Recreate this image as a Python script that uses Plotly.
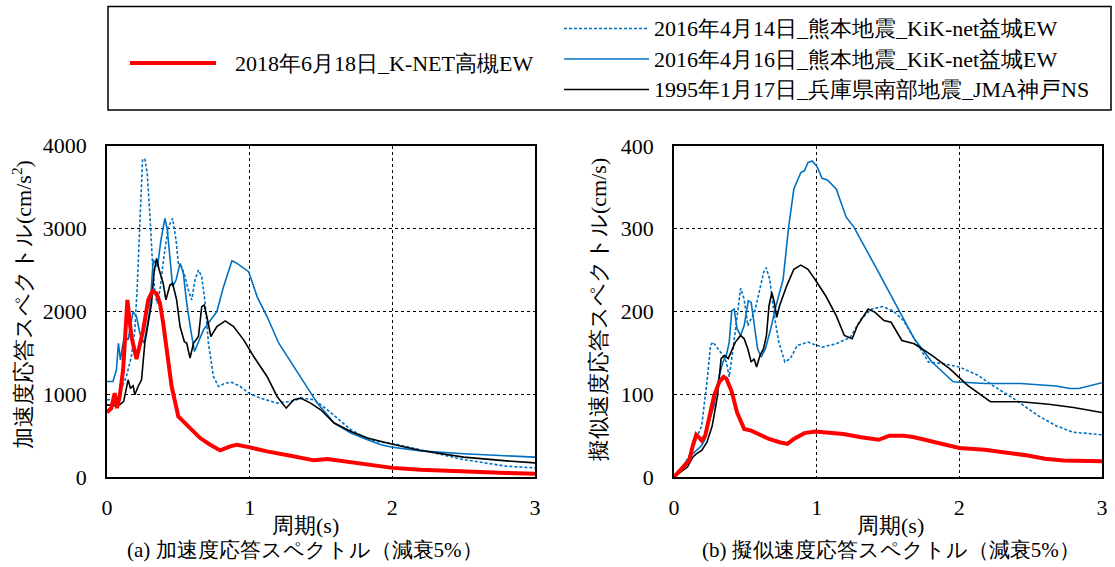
import plotly.graph_objects as go

# ---------------- data ----------------
series_names = [
    "2018年6月18日_K-NET高槻EW",
    "2016年4月14日_熊本地震_KiK-net益城EW",
    "2016年4月16日_熊本地震_KiK-net益城EW",
    "1995年1月17日_兵庫県南部地震_JMA神戸NS",
]

# (a) acceleration response spectra (cm/s^2)
acc_red_T = [0, .03, .054, .07, .089, .113, .143, .171, .207, .254, .289, .319, .347, .371, .394, .418, .453, .5, .559, .653, .723, .793, .864, .911, .993, 1.122, 1.286, 1.451, 1.545, 1.662, 1.8, 1.92, 2.0, 2.2, 2.5, 2.8, 3.0]
acc_red = [779, 831, 1012, 831, 972, 1293, 2137, 1695, 1422, 1775, 2137, 2245, 2217, 2096, 1855, 1574, 1092, 731, 631, 470, 390, 321, 370, 390, 361, 309, 257, 201, 217, 189, 150, 128, 110, 88, 63, 48, 40]

acc_d14_T = [0, .066, .089, .136, .171, .195, .211, .23, .249, .265, .282, .3, .319, .336, .352, .371, .399, .43, .46, .484, .5, .523, .547, .57, .594, .617, .641, .664, .688, .711, .746, .782, .829, .876, .934, .993, 1.075, 1.192, 1.286, 1.369, 1.451, 1.545, 1.709, 1.826, 1.92, 2.0, 2.2, 2.5, 2.8, 3.0]
acc_d14 = [932, 932, 1012, 1213, 1454, 1775, 2257, 2980, 3823, 3843, 3663, 3181, 2578, 2217, 2096, 2257, 2659, 3020, 3120, 2859, 2578, 2538, 2418, 2257, 2137, 2377, 2498, 2418, 2096, 1614, 1213, 1092, 1133, 1141, 1092, 1012, 952, 892, 912, 952, 932, 811, 570, 460, 420, 405, 330, 210, 130, 110]

acc_d16_T = [0, .042, .066, .08, .094, .108, .124, .148, .183, .207, .23, .258, .277, .3, .324, .338, .354, .378, .406, .423, .441, .46, .484, .512, .535, .559, .587, .613, .676, .77, .817, .876, .911, .946, .993, 1.052, 1.122, 1.204, 1.286, 1.357, 1.474, 1.592, 1.709, 1.826, 1.92, 2.0, 2.2, 2.5, 2.8, 3.0]
acc_d16 = [1153, 1153, 1293, 1614, 1414, 1574, 1695, 1655, 1996, 1936, 1735, 1614, 1775, 2016, 2618, 2578, 2538, 2859, 3120, 2980, 2618, 2297, 2377, 2578, 2458, 2096, 1775, 1514, 1775, 1996, 2297, 2610, 2578, 2538, 2478, 2177, 1936, 1614, 1394, 1213, 892, 651, 530, 450, 390, 360, 315, 280, 255, 240]

acc_kobe_T = [0, .054, .089, .117, .148, .164, .183, .195, .218, .242, .265, .289, .312, .329, .347, .366, .394, .413, .441, .46, .488, .512, .542, .559, .582, .606, .641, .664, .681, .7, .728, .77, .829, .887, .958, 1.028, 1.122, 1.192, 1.256, 1.31, 1.357, 1.427, 1.498, 1.592, 1.709, 1.826, 1.92, 2.0, 2.2, 2.5, 2.8, 3.0]
acc_kobe = [871, 859, 871, 912, 1173, 1072, 1100, 992, 1092, 1173, 1614, 1855, 2096, 2458, 2638, 2498, 2337, 2137, 2317, 2337, 2137, 1815, 1634, 1614, 1434, 1614, 1695, 2056, 2076, 1936, 1695, 1815, 1883, 1815, 1655, 1454, 1213, 972, 831, 932, 952, 892, 811, 651, 550, 470, 430, 395, 320, 240, 195, 170]

# (b) pseudo velocity response spectra (cm/s)
vel_red_T = [0, .045, .082, .107, .132, .156, .174, .194, .219, .243, .281, .318, .348, .367, .405, .442, .492, .541, .591, .666, .74, .795, .84, .914, .988, 1.088, 1.187, 1.311, 1.435, 1.51, 1.609, 1.684, 1.783, 1.882, 2.0, 2.18, 2.33, 2.48, 2.6, 2.73, 3.0]
vel_red = [0, 8, 14, 20, 38, 51, 48, 44, 50, 70, 98, 115, 121, 119, 103, 78, 58, 56, 52, 46, 42, 40, 46, 53, 55, 53, 52, 48, 45, 50, 50, 48, 44, 40, 35, 33, 30, 26, 22, 20, 19]

vel_d14_T = [0, .07, .119, .156, .194, .231, .256, .273, .305, .343, .367, .387, .417, .442, .467, .492, .517, .566, .628, .646, .671, .703, .735, .777, .815, .864, .939, 1.038, 1.137, 1.237, 1.311, 1.386, 1.46, 1.535, 1.609, 1.684, 1.783, 1.882, 2.0, 2.131, 2.23, 2.379, 2.553, 2.677, 2.8, 2.875, 3.0]
vel_d14 = [0, 14, 30, 46, 62, 115, 159, 163, 155, 147, 139, 121, 159, 195, 228, 215, 183, 200, 247, 253, 239, 195, 163, 139, 143, 159, 163, 157, 161, 169, 191, 203, 206, 201, 189, 167, 139, 137, 133, 123, 111, 95, 74, 62, 54, 53, 51]

vel_d16_T = [0, .07, .119, .194, .219, .243, .28, .318, .343, .367, .387, .405, .422, .442, .467, .492, .521, .541, .561, .586, .611, .641, .678, .715, .765, .802, .84, .889, .914, .939, .968, 1.0, 1.038, 1.075, 1.137, 1.207, 1.261, 1.336, 1.435, 1.559, 1.684, 1.808, 1.957, 2.18, 2.43, 2.677, 2.776, 2.838, 2.925, 3.0]
vel_d16 = [0, 16, 26, 38, 46, 66, 86, 123, 139, 147, 163, 201, 203, 179, 171, 183, 213, 211, 183, 155, 145, 155, 179, 207, 239, 300, 348, 368, 370, 380, 382, 376, 361, 359, 348, 314, 302, 279, 247, 207, 167, 139, 115, 113, 113, 110, 107, 107, 111, 114]

vel_kobe_T = [0, .094, .132, .156, .194, .231, .268, .305, .33, .355, .38, .405, .43, .467, .492, .517, .541, .561, .579, .603, .628, .648, .666, .686, .703, .72, .74, .79, .84, .889, .939, .988, 1.063, 1.137, 1.194, 1.249, 1.286, 1.361, 1.41, 1.472, 1.522, 1.597, 1.684, 1.808, 1.932, 2.056, 2.218, 2.43, 2.627, 2.8, 3.0]
vel_kobe = [0, 12, 24, 28, 32, 42, 62, 98, 143, 147, 143, 153, 163, 171, 167, 155, 139, 143, 133, 147, 155, 171, 207, 223, 211, 193, 207, 231, 251, 256, 251, 239, 219, 195, 171, 167, 183, 203, 199, 189, 187, 165, 161, 147, 131, 111, 91, 91, 88, 84, 78]

x_ticks = [0, 1, 2, 3]
acc_ticks = [0, 1000, 2000, 3000, 4000]
vel_ticks = [0, 100, 200, 300, 400]

# ---------------- styling ----------------
W, H = 1115, 567
FONT = "Times New Roman, Liberation Serif, DejaVu Serif, serif"
RED = "#FF0000"
BLUE = "#0070C0"
BLACK = "#000000"

def px(x):
    return x / W

def py(y):
    return 1 - y / H

fig = go.Figure()

styles = [
    dict(color=RED, width=4),
    dict(color=BLUE, width=1.6, dash="3px,2px"),
    dict(color=BLUE, width=1.6),
    dict(color=BLACK, width=1.6),
]
acc_sets = [(acc_red_T, acc_red), (acc_d14_T, acc_d14), (acc_d16_T, acc_d16), (acc_kobe_T, acc_kobe)]
vel_sets = [(vel_red_T, vel_red), (vel_d14_T, vel_d14), (vel_d16_T, vel_d16), (vel_kobe_T, vel_kobe)]

order = [1, 2, 3, 0]
for i in order:
    T, v = acc_sets[i]
    fig.add_trace(go.Scatter(x=T, y=v, mode="lines", line=styles[i], name=series_names[i],
                             showlegend=False, xaxis="x", yaxis="y"))
for i in order:
    T, v = vel_sets[i]
    fig.add_trace(go.Scatter(x=T, y=v, mode="lines", line=styles[i], name=series_names[i],
                             showlegend=False, xaxis="x2", yaxis="y2"))

ax_common = dict(
    showline=True, mirror=True, linecolor="black", linewidth=1.5,
    showgrid=True, gridcolor="black", gridwidth=1, griddash="dot",
    zeroline=False, ticks="", automargin=False,
    tickfont=dict(family=FONT, size=22, color="black"),
)

fig.update_layout(
    width=W, height=H,
    margin=dict(l=0, r=0, t=0, b=0),
    paper_bgcolor="white", plot_bgcolor="white",
    font=dict(family=FONT, size=22, color="black"),
    showlegend=False,
    xaxis=dict(domain=[px(107), px(535)], range=[0, 3], tickvals=x_ticks, anchor="y",
               ticklabelstandoff=10, **ax_common),
    yaxis=dict(domain=[py(477), py(145.5)], range=[0, 4000], tickvals=acc_ticks, anchor="x",
               ticklabelstandoff=14, **ax_common),
    xaxis2=dict(domain=[px(674), px(1102)], range=[0, 3], tickvals=x_ticks, anchor="y2",
                ticklabelstandoff=10, **ax_common),
    yaxis2=dict(domain=[py(477), py(146)], range=[0, 400], tickvals=vel_ticks, anchor="x2",
                ticklabelstandoff=14, **ax_common),
)

ann = []
def add_text(text, x, y, xanchor="center", yanchor="middle", size=22, angle=0):
    ann.append(dict(text=text, x=x, y=y, xref="paper", yref="paper", xanchor=xanchor,
                    yanchor=yanchor, showarrow=False, textangle=angle,
                    font=dict(family=FONT, size=size, color="black")))

add_text("加速度応答スペクトル(cm/s<sup>2</sup>)", px(22), py(305), size=22, angle=-90)
add_text("擬似速度応答スペクトル(cm/s)", px(598), py(310), size=22, angle=-90)
add_text("周期(s)", px(305), py(525))
add_text("周期(s)", px(890), py(525))
add_text("(a) 加速度応答スペクトル（減衰5%）", px(305), py(550), size=21)
add_text("(b) 擬似速度応答スペクトル（減衰5%）", px(891), py(550), size=21)

shapes = [dict(type="rect", xref="paper", yref="paper", x0=px(108), x1=px(1111), y0=py(110), y1=py(6.5),
               line=dict(color="black", width=1.5), fillcolor="rgba(0,0,0,0)")]
leg_rows = [(130, 216, 233, 63, 0), (564, 649, 652, 28.5, 1), (564, 649, 652, 59, 2), (564, 649, 652, 89.5, 3)]
for x0, x1, xt, yy, i in leg_rows:
    st = styles[i]
    line = dict(color=st["color"], width=st["width"])
    if "dash" in st:
        line["dash"] = st["dash"]
    shapes.append(dict(type="line", xref="paper", yref="paper", x0=px(x0), x1=px(x1), y0=py(yy), y1=py(yy),
                       line=line))
    add_text(series_names[i], px(xt), py(yy), xanchor="left")

fig.update_layout(annotations=ann, shapes=shapes)

# remove the browser's default page margin so the figure fills the window exactly
fig.write_html(
    "out.html",
    config={"displayModeBar": False},
    post_script="document.body.style.margin='0';document.documentElement.style.overflow='hidden';",
)
